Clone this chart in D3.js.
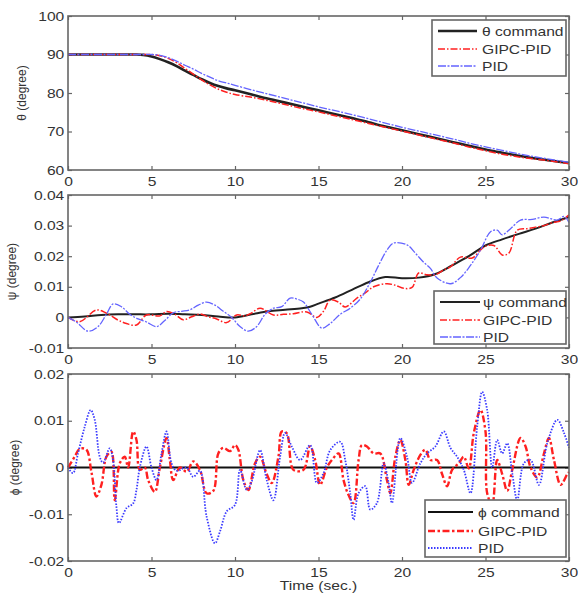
<!DOCTYPE html>
<html>
<head>
<meta charset="utf-8">
<script src="https://cdn.jsdelivr.net/npm/d3@7"></script>
<style>
  body { margin: 0; background: #fff; }
  text { font-family: "Liberation Sans", Arial, sans-serif; fill: #333; }
</style>
</head>
<body>
<div id="chart"></div>
<script>
// time ticks shared by the 3 panels
var timeTicks = [0, 5, 10, 15, 20, 25, 30];

// panel 1 : theta (degree)
var thetaTicks = [60, 70, 80, 90, 100];
var thetaT    = [0,1,2,3,4,4.5,5,5.5,6,6.5,7,7.5,8,8.5,9,9.5,10,11,12,13,14,15,16,17,18,19,20,21,22,23,24,25,26,27,28,29,30];
var thetaCmd  = [90,90,90,90,90,89.9,89.5,88.8,88,87,85.8,84.7,83.6,82.6,81.8,81.2,80.7,79.6,78.5,77.5,76.5,75.5,74.5,73.5,72.4,71.3,70.3,69.3,68.3,67.3,66.3,65.3,64.5,63.7,63,62.4,61.8];
var thetaGipc = [90,90,90,90,90,90,90,89.7,89,87.9,86.4,84.9,83.4,82.1,81,80.2,79.6,78.9,78,77,76,75.1,74.1,73.1,72.1,71.1,70.1,69.1,68.1,67.1,66,65,64.1,63.4,62.8,62.3,61.6];
var thetaPid  = [90,90,90,90,90,90,90,89.8,89.2,88.3,87.2,86.2,85.1,84.1,83.2,82.6,82,80.8,79.7,78.6,77.5,76.4,75.4,74.4,73.3,72.2,71.1,70.1,69.1,68.1,67,66,65.1,64.2,63.4,62.7,62];

// panel 2 : psi (degree)
var psiTicks = ["-0.01", "0", "0.01", "0.02", "0.03", "0.04"];
var psiCmd = [[0,0],[1,0.0003],[2,0.0008],[3,0.001],[4,0.001],[5,0.001],[6,0.0012],[7,0.001],[8,0.0008],[9,0.0003],[10,0],
  [11,0.001],[12,0.002],[13,0.0025],[14,0.003],[14.5,0.0035],[15,0.0045],[16,0.0065],[17,0.009],[18,0.0115],[19,0.0132],
  [20,0.0128],[21,0.013],[22,0.0142],[23,0.017],[24,0.02],[25,0.0235],[26,0.0255],[27,0.0273],[28,0.029],[29,0.031],[30,0.0328]];
var psiGipc = [[0,0],[0.7,-0.0014],[1.7,0.0024],[2.3,0.0014],[3,-0.0009],[3.5,-0.002],[4.1,-0.0025],[4.7,0.0008],[5.5,0.0005],
  [5.9,0.0019],[6.4,0.001],[6.9,-0.0008],[7.4,0.0002],[7.9,0.0011],[8.4,0.0002],[8.9,-0.0005],[9.5,-0.0017],[10.1,0.0008],
  [10.6,0.0005],[11,0.0015],[11.5,0.003],[12.3,0.0008],[12.9,0.001],[13.5,0.0012],[14.3,0.0018],[14.9,0],[15.3,0.002],
  [15.7,0.0057],[16.2,0.005],[16.6,0.0034],[17.3,0.0063],[17.8,0.008],[18.3,0.01],[19.1,0.011],[19.6,0.0105],[20.1,0.0095],
  [20.6,0.0098],[21,0.0145],[21.5,0.0139],[22,0.014],[22.5,0.0155],[22.9,0.0165],[23.5,0.0197],[24.2,0.0194],[24.9,0.023],
  [25.5,0.0235],[26,0.0204],[26.4,0.021],[26.9,0.0285],[27.5,0.029],[28,0.0295],[28.5,0.03],[29,0.031],[29.5,0.0315],[30,0.0335]];
var psiPid = [[0,0],[0.5,-0.0015],[1.2,-0.0045],[1.8,-0.003],[2.3,0.001],[2.7,0.0044],[3.2,0.0035],[3.7,0.001],[4.2,-0.0005],
  [4.7,-0.0015],[5.3,-0.003],[5.8,-0.001],[6.3,0.0015],[6.8,0.002],[7.3,0.0025],[7.8,0.004],[8.3,0.005],[8.8,0.004],[9.3,0.002],
  [9.8,0],[10.3,-0.003],[10.8,-0.0045],[11.3,-0.003],[11.8,0.001],[12.3,0.003],[12.8,0.0035],[13.3,0.0063],[13.7,0.006],
  [14.1,0.005],[14.6,0.001],[15.2,-0.0035],[15.7,-0.002],[16.3,0.001],[16.9,0.003],[17.5,0.006],[18.1,0.0115],[18.6,0.017],
  [19.1,0.022],[19.5,0.0243],[20.3,0.0237],[20.8,0.021],[21.3,0.018],[21.7,0.016],[22.1,0.0129],[22.9,0.011],[23.5,0.013],
  [24.1,0.017],[24.7,0.022],[25.3,0.028],[25.7,0.0285],[26,0.027],[26.5,0.029],[27.1,0.0318],[27.8,0.032],[28.5,0.0328],
  [29.3,0.0318],[29.7,0.033],[30,0.031]];

// panel 3 : phi (degree)
var phiTicks = ["-0.02", "-0.01", "0", "0.01", "0.02"];
var phiCmd = [[0,0],[30,0]];
var phiGipc = [[0,0],[0.4,0.0023],[0.7,0.004],[1.1,0.0038],[1.4,-0.0009],[1.7,-0.0062],[2,-0.0037],[2.3,0.0023],[2.6,0.0034],
  [2.8,-0.007],[3.1,0.0009],[3.4,0.0023],[3.6,0],[3.9,0.0077],[4.1,0.0059],[4.3,-0.0005],[4.6,0],[4.8,-0.0027],[5.2,-0.0052],
  [5.5,0],[5.9,0.0063],[6.1,0.0016],[6.3,-0.0027],[6.7,0],[7.1,-0.0009],[7.5,0.0013],[7.9,-0.0005],[8.3,-0.0055],[8.7,-0.005],
  [9,0.003],[9.3,0.0042],[9.7,0.0035],[10,0.0048],[10.2,0.0038],[10.5,-0.0027],[10.8,-0.0048],[11.2,0.0009],[11.5,0.0023],
  [11.9,-0.0014],[12.2,-0.0033],[12.6,0.0023],[12.8,0.0077],[13.1,0.0073],[13.5,-0.0005],[14.1,-0.0005],[14.5,0.0045],
  [14.8,0.0016],[15.1,-0.0037],[15.5,0],[15.8,0.0016],[16.2,0.003],[16.5,-0.0027],[16.8,-0.0059],[17.1,-0.0076],[17.4,0.0016],
  [17.6,0.0048],[17.9,0.0045],[18.3,0.003],[18.7,0.003],[19.1,-0.0027],[19.3,-0.0055],[19.6,0.0023],[19.9,0.0059],[20.2,0.0016],
  [20.4,-0.0037],[20.7,-0.0005],[21.1,0.0027],[21.4,0.0038],[21.7,0.0016],[22.1,0.0016],[22.4,-0.0014],[22.7,-0.004],[23,-0.0005],
  [23.4,0.0009],[23.7,0.0023],[24,-0.0002],[24.3,0.0074],[24.7,0.0123],[25,0.0077],[25.1,-0.0055],[25.4,-0.008],[25.7,0.0016],
  [26,-0.0014],[26.3,-0.005],[26.6,-0.0005],[27.1,0.0063],[27.4,0.0045],[27.7,0],[28.1,-0.0021],[28.5,0.003],[28.8,0.0063],
  [29.1,0.0016],[29.5,-0.0037],[29.9,-0.0014],[30,-0.001]];
var phiPid = [[0,0],[0.3,-0.0012],[0.6,0.003],[1,0.0087],[1.36,0.0123],[1.6,0.0102],[1.9,0.0023],[2.1,0.001],[2.5,0.0041],
  [2.7,0.0016],[2.9,-0.0084],[3.05,-0.0119],[3.5,-0.0087],[3.9,-0.0077],[4.1,-0.0048],[4.3,0],[4.7,0.0045],[5,0],[5.3,-0.0027],
  [5.6,0.003],[5.9,0.0077],[6.2,0.0009],[6.5,-0.0007],[7.1,0],[7.5,-0.002],[7.9,-0.0007],[8.3,-0.0105],[8.8,-0.0162],
  [9.1,-0.0137],[9.5,-0.0094],[10,-0.008],[10.3,-0.0005],[10.7,-0.0048],[11,-0.003],[11.5,0.0037],[11.9,-0.0027],[12.3,-0.007],
  [12.7,0.0023],[13,0.0074],[13.4,0.0045],[13.9,0.0016],[14.5,0.0048],[14.9,-0.0033],[15.3,-0.0012],[15.7,0.0037],[16.3,0.0055],
  [16.6,0.0016],[16.9,-0.0055],[17.1,-0.0112],[17.4,-0.0055],[17.8,-0.004],[18.1,-0.009],[18.5,-0.0076],[18.9,0.0009],
  [19.2,-0.0033],[19.4,-0.0076],[19.9,0.0063],[20.3,0.0023],[20.6,-0.0033],[21.1,0.0009],[21.5,0.003],[22,0.0045],[22.5,0.0077],
  [22.9,0.0042],[23.3,0.0023],[23.7,-0.0005],[24.1,-0.0055],[24.5,0.0087],[24.8,0.0162],[25.1,0.0123],[25.4,0],[25.7,0.0059],
  [26,0.003],[26.3,0.0052],[26.6,-0.0012],[26.9,-0.007],[27.3,0.0009],[27.7,0.0016],[28.2,-0.0037],[28.7,0.0052],[29.3,0.0102],
  [29.7,0.0074],[30,0.0042]];

var legendNames1 = ["\u03b8 command", "GIPC-PID", "PID"];
var legendNames2 = ["\u03c8 command", "GIPC-PID", "PID"];
var legendNames3 = ["\u03d5 command", "GIPC-PID", "PID"];

// ---------------------------------------------------------------
var W = 578, H = 594;
var left = 68, right = 569;
var stretch = "scale(1.25,1)";

var svg = d3.select("#chart").append("svg")
  .attr("width", W).attr("height", H);

var x = d3.scaleLinear().domain([0, 30]).range([left, right]);

function zip(t, v) { return t.map(function(d, i) { return [d, v[i]]; }); }

function panel(cfg) {
  var y = d3.scaleLinear().domain(cfg.domain).range([cfg.bottom, cfg.top]);
  var g = svg.append("g");

  var ax = g.append("g").attr("transform", "translate(0," + cfg.bottom + ")")
    .call(d3.axisBottom(x).tickValues(timeTicks).tickFormat(d3.format("d"))
      .tickSizeInner(-4).tickSizeOuter(0).tickPadding(7));
  var axTop = g.append("g").attr("transform", "translate(0," + cfg.top + ")")
    .call(d3.axisTop(x).tickValues(timeTicks).tickFormat("").tickSizeInner(-4).tickSizeOuter(0));
  var ay = g.append("g").attr("transform", "translate(" + left + ",0)")
    .call(d3.axisLeft(y).tickValues(cfg.ticks.map(Number)).tickFormat(function(d, i) { return cfg.ticks[i]; })
      .tickSizeInner(-4).tickSizeOuter(0).tickPadding(3));
  var ayR = g.append("g").attr("transform", "translate(" + right + ",0)")
    .call(d3.axisRight(y).tickValues(cfg.ticks.map(Number)).tickFormat("").tickSizeInner(-4).tickSizeOuter(0));

  [ax, axTop, ay, ayR].forEach(function(a) {
    a.select(".domain").remove();
    a.selectAll(".tick line").attr("stroke", "#666").attr("stroke-width", 1.2);
    a.selectAll(".tick text").attr("font-size", 12.5).attr("fill", "#3a3a3a")
      .attr("font-family", "'Liberation Sans', Arial, sans-serif")
      .attr("transform", stretch);
  });

  var line = d3.line()
    .x(function(d) { return x(d[0]); })
    .y(function(d) { return y(d[1]); })
    .curve(d3.curveCatmullRom.alpha(0.5));

  cfg.series.forEach(function(s) {
    g.append("path").datum(s.data)
      .attr("fill", "none")
      .attr("stroke", s.color)
      .attr("stroke-width", s.width)
      .attr("stroke-dasharray", s.dash || null)
      .attr("stroke-linejoin", "round")
      .attr("d", line);
  });

  // frame
  g.append("rect")
    .attr("x", left).attr("y", cfg.top)
    .attr("width", right - left).attr("height", cfg.bottom - cfg.top)
    .attr("fill", "none").attr("stroke", "#666").attr("stroke-width", 1.6);

  // y label
  g.append("text")
    .attr("transform", "translate(" + cfg.labelX + "," + ((cfg.top + cfg.bottom) / 2) + ") rotate(-90)")
    .attr("text-anchor", "middle")
    .attr("dy", "0.35em")
    .attr("font-size", 12)
    .attr("fill", "#3a3a3a")
    .text(cfg.label);

  // legend
  var L = cfg.legend;
  g.append("rect")
    .attr("x", L.x0).attr("y", L.y0)
    .attr("width", L.x1 - L.x0).attr("height", L.y1 - L.y0)
    .attr("fill", "#fff").attr("stroke", "#666").attr("stroke-width", 1.6);
  cfg.series.forEach(function(s, i) {
    var yy = L.rows[i];
    g.append("line")
      .attr("x1", L.lx0).attr("x2", L.lx1).attr("y1", yy).attr("y2", yy)
      .attr("stroke", s.color).attr("stroke-width", s.width)
      .attr("stroke-dasharray", s.dash || null);
    g.append("text")
      .attr("transform", "translate(" + L.tx + "," + yy + ") " + stretch)
      .attr("dy", "0.36em")
      .attr("font-size", 12.5)
      .attr("fill", "#3a3a3a")
      .text(cfg.names[i]);
  });
}

panel({
  top: 16, bottom: 170, domain: [60, 100], ticks: thetaTicks.map(String),
  label: "\u03b8 (degree)", labelX: 22, names: legendNames1,
  legend: {x0: 432, x1: 566, y0: 20, y1: 76, rows: [31, 49, 66], lx0: 438, lx1: 477, tx: 482},
  series: [
    {data: zip(thetaT, thetaCmd), color: "#222", width: 2.6},
    {data: zip(thetaT, thetaGipc), color: "#ff2020", width: 1.5, dash: "7,2,1.5,2"},
    {data: zip(thetaT, thetaPid), color: "#6464ff", width: 1.3, dash: "8,1.5,2,1.5"}
  ]
});

panel({
  top: 195, bottom: 348, domain: [-0.01, 0.04], ticks: psiTicks,
  label: "\u03c8 (degree)", labelX: 12, names: legendNames2,
  legend: {x0: 434, x1: 566, y0: 291, y1: 344, rows: [302, 320, 337], lx0: 440, lx1: 480, tx: 483},
  series: [
    {data: psiCmd, color: "#222", width: 2},
    {data: psiGipc, color: "#ff2020", width: 1.5, dash: "7,2,1.5,2"},
    {data: psiPid, color: "#6464ff", width: 1.3, dash: "8,1.5,2,1.5"}
  ]
});

panel({
  top: 374, bottom: 561, domain: [-0.02, 0.02], ticks: phiTicks,
  label: "\u03d5 (degree)", labelX: 15, names: legendNames3,
  legend: {x0: 425, x1: 566, y0: 500, y1: 557, rows: [512, 531, 548], lx0: 428, lx1: 473, tx: 478},
  series: [
    {data: phiCmd, color: "#111", width: 2},
    {data: phiGipc, color: "#ff2020", width: 2.4, dash: "7,2.5,2.5,2.5"},
    {data: phiPid, color: "#3a3aff", width: 1.8, dash: "1.5,1.5"}
  ]
});

svg.append("text")
  .attr("transform", "translate(" + ((left + right) / 2) + ",586) " + stretch)
  .attr("text-anchor", "middle")
  .attr("dy", "0.35em")
  .attr("font-size", 12.5)
  .attr("fill", "#3a3a3a")
  .text("Time (sec.)");
</script>
</body>
</html>
